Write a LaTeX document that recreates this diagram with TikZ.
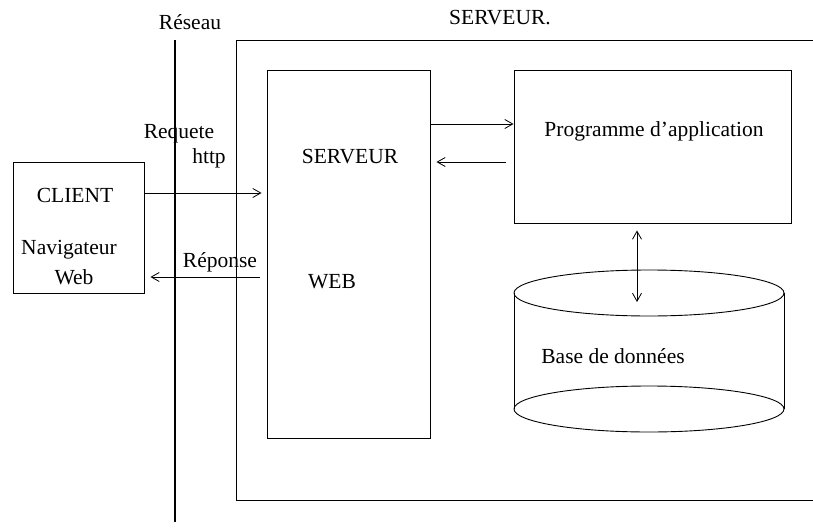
\documentclass[tikz,border=0pt]{standalone}
\usepackage{fontspec}
\setmainfont{Liberation Serif}
\usetikzlibrary{arrows.meta,positioning}

\begin{document}
\begin{tikzpicture}[x=1pt,y=-1pt,
        bx/.style={draw,rectangle,line width=0.9pt,inner sep=0pt},
        arr/.style={-{Straight Barb[length=8pt,width=9pt]},line width=0.8pt},
        dbl/.style={{Straight Barb[length=8pt,width=9pt]}-{Straight Barb[length=8pt,width=9pt]},line width=0.8pt},
        lbl/.style={font=\fontsize{21.5}{26}\selectfont,inner sep=0pt}
      ]
        \useasboundingbox (0,0) rectangle (813,527);
        % boxes
        \node[bx,minimum width=131pt,minimum height=131pt] (client) at (78.5,227.5) {};
        \node[bx,minimum width=163pt,minimum height=368pt] (web) at (348.5,254) {};
        \node[bx,minimum width=277pt,minimum height=153pt] (prog) at (652.5,146.5) {};
        % outer server frame (runs off the right edge)
        \draw[line width=0.9pt] (813,40) -- (236,40) -- (236,500) -- (813,500);
        % network line
        \coordinate (res-top) at (175,40);
        \coordinate (res-bot) at (175,522);
        \draw[line width=1.6pt] (res-top) -- (res-bot);
        % database
        \draw[line width=0.9pt] (649,293) ellipse [x radius=135pt,y radius=23pt];
        \draw[line width=0.9pt] (649,409) ellipse [x radius=135pt,y radius=23pt];
        \draw[line width=0.9pt] (514,293) -- (514,409) (784,293) -- (784,409);
        \coordinate (bd-top) at (637,302);
        % texts
        \node[lbl] (reseau) at (190,22) {Réseau};
        \node[lbl] (serv) at (500,18) {SERVEUR.};
        \node[lbl] (cl1) at (75,195) {CLIENT};
        \node[lbl] (cl2) at (69,250) {Navigateur};
        \node[lbl] (cl3) at (74,277) {Web};
        \node[lbl] (w1) at (350,157) {SERVEUR};
        \node[lbl] (w2) at (332,282) {WEB};
        \node[lbl] (pa) at (654,131) {Programme d’application};
        \node[lbl] (bd) at (613,356) {Base de données};
        \node[lbl] (req) at (179,134) {Requete};
        \node[lbl] (http) at (209,158) {http};
        \node[lbl] (rep) at (220,262) {Réponse};
        % connectors
        \draw[arr,shorten >=5pt] (client.east |- 0,193) -- (web.west |- 0,193);
        \draw[arr,shorten <=7pt,shorten >=6pt] (web.west |- 0,277) -- (client.east |- 0,277);
        \draw[arr] (web.east |- 0,124) -- (prog.west |- 0,124);
        \draw[arr,shorten <=8pt,shorten >=6pt] (prog.west |- 0,162) -- (web.east |- 0,162);
        \draw[dbl,shorten <=7pt] (prog.south -| bd-top) -- (bd-top);
      \end{tikzpicture}
\end{document}
